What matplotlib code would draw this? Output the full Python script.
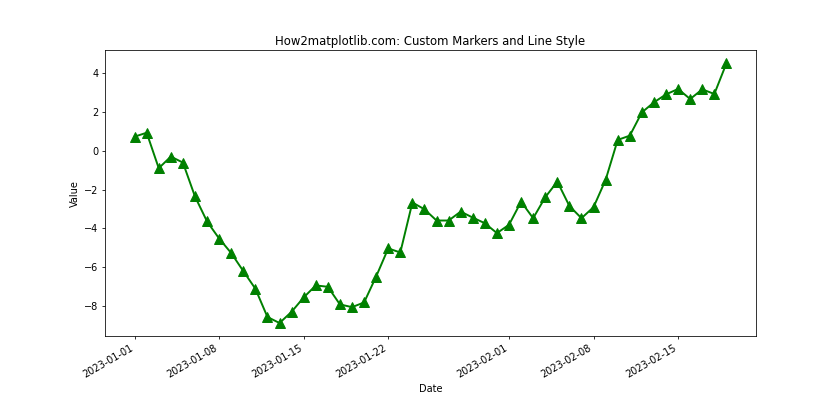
import matplotlib
matplotlib.use('Agg')
import matplotlib.pyplot as plt
import numpy as np
import pandas as pd

dates = pd.date_range('2023-01-01', periods=50, freq='D')
values = [0.74, 0.94, -0.89, -0.29, -0.6, -2.35, -3.64, -4.52, -5.27, -6.2,
          -7.11, -8.57, -8.88, -8.3, -7.56, -6.94, -7.01, -7.92, -8.06, -7.82,
          -6.48, -5.03, -5.24, -2.66, -3.01, -3.59, -3.59, -3.13, -3.44, -3.73,
          -4.24, -3.81, -2.62, -3.47, -2.39, -1.58, -2.84, -3.47, -2.9, -1.49,
          0.57, 0.79, 1.99, 2.51, 2.92, 3.2, 2.68, 3.18, 2.94, 4.52]

fig, ax = plt.subplots(figsize=(12, 6), dpi=70)
ax.plot(dates, values, marker='^', linestyle='-', color='green', markersize=10, linewidth=2)
ax.set_title('How2matplotlib.com: Custom Markers and Line Style')
ax.set_xlabel('Date')
ax.set_ylabel('Value')
fig.autofmt_xdate()
plt.savefig('out.png')
